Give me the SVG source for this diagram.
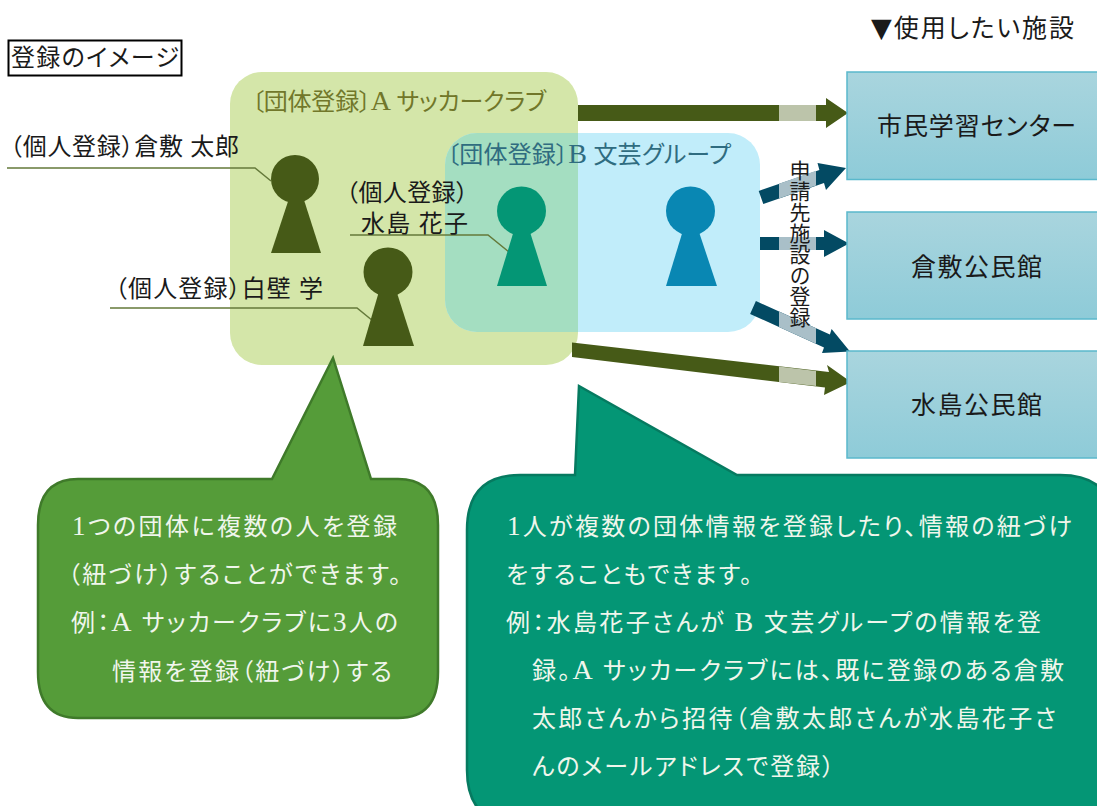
<svg xmlns="http://www.w3.org/2000/svg" width="1097" height="806" viewBox="0 0 1097 806">
<style>
text{font-family:"Liberation Serif","Noto Sans CJK JP",serif;font-size:24px;fill:#1a1a1a;font-feature-settings:"palt";dominant-baseline:alphabetic}
.w{fill:#f0f6ec}
.l{font-size:28px}
.d{font-size:27px}
.leader{fill:none;stroke:#64793a;stroke-width:1.5}
.ol{fill:#465a17}.olp{fill:#bcc4aa}.bl{fill:#034a63}.blp{fill:#a9bfc8}
.fac{fill:url(#fg);stroke:#5ab8cc;stroke-width:1.5}
.pa{fill:#465a17}.pt{fill:#049675}.pb{fill:#0987b3}
</style>
<defs><linearGradient id="fg" x1="0" y1="0" x2="0" y2="1"><stop offset="0" stop-color="#a9d5de"/><stop offset="1" stop-color="#8ecbd8"/></linearGradient></defs>
<rect width="1097" height="806" fill="#fff"/>

<g id="title"><rect x="8.5" y="40.5" width="173" height="35" fill="#fff" stroke="#000" stroke-width="2"/><text x="11" y="66" textLength="168">登録のイメージ</text></g>
<g id="header"><text x="871" y="37" style="font-size:25px" textLength="203"><tspan style="font-family:'DejaVu Sans',sans-serif;font-size:27px">▼</tspan>使用したい施設</text></g>

<g id="group-a"><rect x="230" y="72" width="348" height="293" rx="32" fill="#d4e6a9"/></g>
<g id="group-b"><rect x="445" y="133" width="315" height="199" rx="32" fill="#c1edfa"/>
<path d="M477 133H578V332H477A32 32 0 0 1 445 300V165A32 32 0 0 1 477 133Z" fill="#a4dec1"/></g>
<text x="252" y="110" textLength="294" style="fill:#71772a">〔団体登録〕<tspan class="l">A</tspan> サッカークラブ</text>
<text x="447" y="163" textLength="284" style="fill:#2f6c80">〔団体登録〕<tspan class="l">B</tspan> 文芸グループ</text>

<g id="connectors">
<polyline class="leader" points="7,168 255,168 271,181"/>
<polyline class="leader" points="350,235 488,235 509,252"/>
<polyline class="leader" points="110,308 357,308 373,321"/>
<polygon class="ol" points="578,105 826,105 826,98 848,113 826,128 826,121 578,121"/>
<rect class="olp" x="779" y="105" width="37" height="16"/>
<polygon class="ol" points="572,342.500 829,372 827,365 851,382 824,395 825,387.500 572,357"/>
<polygon class="olp" points="779,366.500 816,371 816,386 779,382"/>
<polygon class="bl" points="758.700,190.900 819.400,169.900 817.500,163 846,168 826,190 824,183.100 763.300,204.100"/>
<polygon class="blp" points="779,183.800 816,170.800 816,185.600 779,198.600"/>
<polygon class="bl" points="760,237 824,237 824,230 849,243.500 824,257 824,250 760,250"/>
<rect class="blp" x="779" y="237" width="37" height="13"/>
<polygon class="bl" points="755.900,301.100 829.900,334.600 831.600,329 850,351.500 822,353 824,347.400 750.100,313.900"/>
<polygon class="blp" points="779,311.600 816,328.300 816,343.700 779,327"/>
</g>

<g id="person-kurashiki" class="pa"><circle cx="295" cy="179" r="24"/><polygon points="288.500,200 304,200 321,253 271,253"/></g>
<g id="person-shirakabe" class="pa"><circle cx="388" cy="272" r="24.500"/><polygon points="378.500,293 397,293 414,346 363,346"/></g>
<g id="person-mizushima" class="pt"><circle cx="521.500" cy="211" r="24.500"/><polygon points="513.500,232 530,232 547,286 497,286"/></g>
<g id="person-b" class="pb"><circle cx="690.500" cy="211" r="24.500"/><polygon points="682.500,232 699,232 717,286 666,286"/></g>

<text x="10" y="155" textLength="229">（個人登録）倉敷 太郎</text>
<text x="346" y="201" textLength="122">（個人登録）</text>
<text x="361" y="232" textLength="107">水島 花子</text>
<text x="115" y="297" textLength="208">（個人登録）白壁 学</text>

<g id="fac-1"><rect class="fac" x="847" y="72" width="260" height="107.500"/><text x="877" y="135" style="font-size:25px" textLength="199">市民学習センター</text></g>
<g id="fac-2"><rect class="fac" x="847" y="212" width="260" height="107"/><text x="911" y="276" style="font-size:25px" textLength="131">倉敷公民館</text></g>
<g id="fac-3"><rect class="fac" x="847" y="351" width="260" height="107"/><text x="911" y="414" style="font-size:25px" textLength="131">水島公民館</text></g>

<text x="791" y="160" style="font-size:21px;writing-mode:vertical-rl;font-feature-settings:normal">申請先施設の登録</text>

<g id="callout-left">
<path d="M78 479H272L333 358L371 479H398Q438 479 438 525V672Q438 718 398 718H78Q38 718 38 672V525Q38 479 78 479Z" fill="#559c39" stroke="#3f7a2a" stroke-width="2.500"/>
<text class="w" x="72" y="535" textLength="325"><tspan class="d">1</tspan>つの団体に複数の人を登録</text>
<text class="w" x="68" y="583" textLength="333">（紐づけ）することができます。</text>
<text class="w" x="71" y="631" textLength="327">例：<tspan class="l">A</tspan> サッカークラブに<tspan class="d">3</tspan>人の</text>
<text class="w" x="112" y="680" textLength="280">情報を登録（紐づけ）する</text>
</g>

<g id="callout-right">
<path d="M520 475H575L579 386L737 475H1060Q1115 475 1115 530V770Q1115 825 1060 825H522Q467 825 467 770V530Q467 475 520 475Z" fill="#049675" stroke="#067a60" stroke-width="2.500"/>
<text class="w" x="507" y="535" textLength="565"><tspan class="d">1</tspan>人が複数の団体情報を登録したり、情報の紐づけ</text>
<text class="w" x="506" y="583" textLength="246">をすることもできます。</text>
<text class="w" x="506" y="631" textLength="535">例：水島花子さんが <tspan class="l">B</tspan> 文芸グループの情報を登</text>
<text class="w" x="532" y="679" textLength="532">録。<tspan class="l">A</tspan> サッカークラブには、既に登録のある倉敷</text>
<text class="w" x="532" y="727" textLength="524">太郎さんから招待（倉敷太郎さんが水島花子さ</text>
<text class="w" x="532" y="775" textLength="302">んのメールアドレスで登録）</text>
</g>
</svg>
